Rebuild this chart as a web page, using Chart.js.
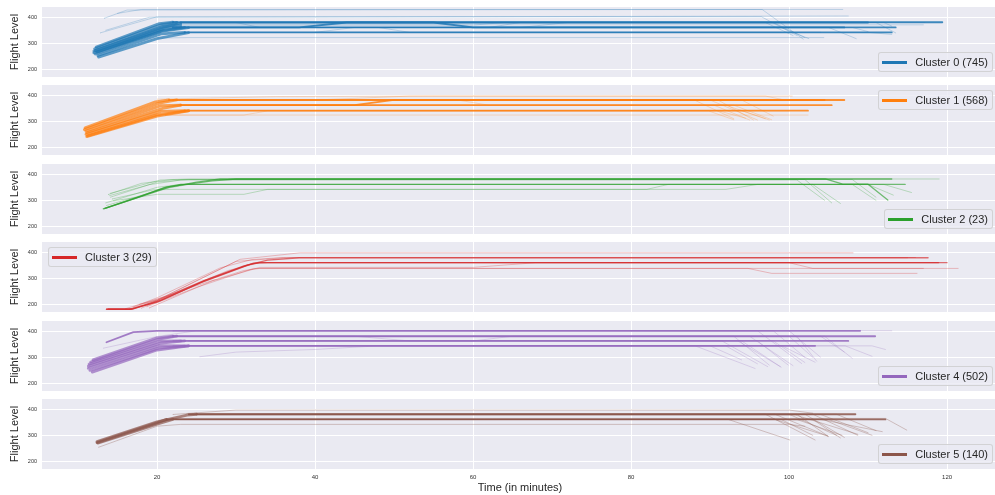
<!DOCTYPE html>
<html>
<head>
<meta charset="UTF-8">
<title>Flight level clusters</title>
<script src="https://cdn.jsdelivr.net/npm/chart.js"></script>
<style>
  body { margin: 0; overflow: hidden; background: #fff; width: 995px; height: 495px; }
  #wrap { position: relative; width: 1000px; height: 495px; }
  .panel { position: absolute; left: 0; line-height: 0; }
  .legend {
    position: absolute; z-index: 5; display: flex; align-items: center;
    height: 20px; box-sizing: border-box; padding: 0 4px 0 3px;
    background: rgba(234, 234, 242, 0.8); border: 1px solid rgba(204, 204, 204, 0.8);
    border-radius: 3px; color: #262626; white-space: nowrap;
    font: 11px "Liberation Sans", Arial, sans-serif;
  }
  .swatch { display: inline-block; width: 25px; height: 3px; margin-right: 8px; }
</style>
</head>
<body>
<div id="wrap"></div>
<script>
// clusters
const clusterNames = ['Cluster 0', 'Cluster 1', 'Cluster 2', 'Cluster 3', 'Cluster 4', 'Cluster 5'];
const clusterSizes = [745, 568, 23, 29, 502, 140];
const clusterColors = ['#1f77b4', '#ff7f0e', '#2ca02c', '#d62728', '#9467bd', '#8c564b'];
const legendSpots = ['lower right', 'upper right', 'lower right', 'upper left', 'lower right', 'lower right'];

const xTicks = [20, 40, 60, 80, 100, 120];
const yTicks = [200, 300, 400];

// trajectories, [minutes, flight level]
// climb = dense climb bundle, main = busy cruise levels, faint = single flights
const c0Climb = [
  [[12.3, 286], [20.3, 376], [22, 381]],
  [[12.1, 279], [20.6, 372], [22.5, 380]],
  [[12.0, 270], [20.7, 360], [23, 378]],
  [[12.2, 272], [20.8, 365], [23, 371]],
  [[12.4, 266], [21, 358], [23, 362]],
  [[12.0, 263], [20.5, 346], [24, 360]],
  [[12.2, 259], [20.8, 350], [23.5, 361]],
  [[12.5, 253], [20.5, 336], [23.5, 342]],
  [[12.6, 247], [20, 318], [24, 341]]
];
const c0Main = [
  [[22, 381], [119.4, 381]],
  [[23, 361], [113.5, 361]],
  [[23.5, 342], [113, 342]],
  [[22, 361], [38, 361], [44, 380], [110, 380]],
  [[23, 380], [55, 380], [60, 361], [107, 361]]
];
const c0Faint = [
  [[13.3, 396], [16.2, 428], [96.6, 430], [101.8, 316]],
  [[15, 415], [18, 430], [106.8, 430]],
  [[12.8, 340], [20, 402], [96.5, 402], [101, 330]],
  [[13.5, 350], [19, 400], [107.5, 405]],
  [[20, 320], [24, 322], [104.4, 322]],
  [[23, 371], [117, 371]],
  [[22, 370], [60, 370], [64, 380], [117.2, 380]],
  [[24, 361], [105, 361], [108.5, 318]],
  [[24, 380], [98, 380], [102, 322]],
  [[24, 380], [97, 380], [100.5, 330]],
  [[24, 361], [99, 361], [102.5, 318]],
  [[24, 342], [110, 342], [113, 334]],
  [[24, 361], [108, 361], [110, 345]],
  [[24, 380], [111, 380], [113.5, 340]],
  [[30, 380], [33, 361], [48, 361], [52, 342], [99, 342]],
  [[40, 342], [45, 361], [62, 361], [66, 380], [95, 380]],
  [[24, 361], [66, 361], [72, 380], [112, 380], [113, 366]],
  [[24, 342], [104, 342]],
  [[24, 360], [95, 360]]
];

const c1Climb = [
  [[10.9, 275], [19.8, 375], [21.5, 382]],
  [[10.8, 268], [20.3, 370], [22.5, 382]],
  [[11.0, 262], [20.5, 360], [23, 362]],
  [[11.1, 256], [20.7, 350], [23, 362]],
  [[11.0, 250], [20.5, 338], [23.5, 341]],
  [[11.2, 244], [20, 325], [24, 341]],
  [[11.1, 241], [20, 320], [24, 340]]
];
const c1Main = [
  [[21.5, 382], [104.5, 382]],
  [[23, 362], [105.4, 362]],
  [[23.5, 341], [102.4, 341]],
  [[23, 362], [45, 362], [50, 382], [107, 382]]
];
const c1Faint = [
  [[21, 324], [31, 324], [34, 340], [100, 340]],
  [[21, 324], [102.4, 324]],
  [[20, 385], [35, 395], [55, 397], [100.4, 397]],
  [[22, 382], [91, 382], [95.5, 305]],
  [[23, 362], [93, 362], [97.8, 306]],
  [[22, 382], [88, 382], [93, 310]],
  [[23, 341], [91, 341], [94.5, 312]],
  [[22, 382], [40, 382], [52, 397], [97, 397], [99, 385]],
  [[22, 382], [90, 382], [96, 305]],
  [[23, 362], [92, 362], [97.5, 305]],
  [[24, 341], [94, 341], [97, 310]],
  [[24, 340], [89.8, 340], [93, 306]],
  [[22, 382], [58, 382], [62, 362], [90.5, 362], [95, 305]],
  [[22, 382], [94, 382], [98, 320]]
];

const c2Climb = [];
const c2Main = [
  [[13.2, 267], [17.5, 310], [21, 350], [23, 361], [114.7, 361]],
  [[13.5, 270], [21.3, 352], [24, 362], [27, 375], [30, 382], [104.6, 382], [106.8, 362], [110, 362], [112.5, 301]],
  [[13.3, 268], [21.5, 350], [25, 370], [28, 382], [113, 382]]
];
const c2Faint = [
  [[14.1, 327], [20.4, 378], [24, 382], [119, 382]],
  [[14.1, 312], [20, 370], [24, 380], [102, 380], [105.4, 290]],
  [[14.3, 305], [19.5, 340], [22, 342], [82, 342], [84.7, 361], [103, 361], [106.5, 288]],
  [[14.5, 298], [20, 323], [31, 323], [34, 342], [92, 342], [96, 361], [108, 361], [111, 300]],
  [[14, 318], [19, 360], [23, 378], [101, 378], [104.5, 300]],
  [[13.8, 322], [18, 365], [22, 380], [108, 380], [111, 312]],
  [[13.6, 280], [21, 345], [24, 361], [110, 361], [113.2, 320]],
  [[13.5, 290], [20, 350], [23, 361], [112, 361], [115.5, 330]]
];

const c3Climb = [];
const c3Main = [
  [[13.6, 181], [16.6, 181], [20, 208], [25.4, 281], [32.2, 358], [34, 360], [118.9, 360]],
  [[13.6, 181], [16.8, 181], [20, 214], [26, 292], [31, 348], [34, 370], [38, 379], [117.6, 379]],
  [[13.8, 182], [17, 182], [20.5, 215], [26, 290], [31.5, 352], [33, 360], [120, 360]]
];
const c3Faint = [
  [[17.8, 200], [20, 216], [30.5, 373], [38.1, 398], [108.1, 398]],
  [[17, 190], [20, 225], [28, 340], [32, 372], [36, 380], [116, 380]],
  [[18.7, 191], [25, 265], [32.2, 338], [121.4, 338]],
  [[18, 185], [24, 262], [31, 330], [33, 338], [94.8, 338], [97.8, 319], [116.2, 319]],
  [[16.5, 182], [22, 240], [29, 330], [33, 360], [100, 360], [103, 338], [117, 338]],
  [[19, 186], [27, 290], [33, 342], [60, 342], [68, 360], [119, 360]],
  [[16, 183], [21, 230], [27, 320], [30, 365], [36, 379], [115, 379]]
];

const c4Climb = [
  [[11.9, 290], [20, 375], [22, 381]],
  [[11.6, 282], [20.2, 370], [22.5, 381]],
  [[11.4, 274], [20.4, 362], [23, 363]],
  [[11.3, 266], [20.5, 355], [23.5, 363]],
  [[11.3, 258], [20.3, 345], [23.5, 344]],
  [[11.5, 250], [20.2, 335], [24, 344]],
  [[11.8, 243], [20, 328], [24, 344]]
];
const c4Main = [
  [[13.6, 358], [17, 397], [20, 402], [109, 402]],
  [[22, 381], [110.9, 381]],
  [[23, 363], [107.5, 363]],
  [[23.5, 344], [103.3, 344]]
];
const c4Faint = [
  [[13.2, 335], [20, 380], [25, 402], [113, 402]],
  [[25.4, 302], [30, 320], [40, 330], [48, 344], [110.5, 344], [112.2, 330]],
  [[23, 344], [107.1, 344], [110.5, 304]],
  [[22.5, 381], [93, 381], [97.5, 270]],
  [[23.5, 363], [91.5, 363], [97.3, 264]],
  [[24, 344], [99.1, 344], [103.3, 281]],
  [[24, 344], [88.1, 344], [95.7, 257]],
  [[22, 381], [45, 381], [52, 363], [96, 363], [99.9, 270]],
  [[24, 363], [60, 363], [65, 381], [100, 381], [103, 300]],
  [[22, 381], [95, 381], [100.5, 268]],
  [[22, 363], [98, 363], [102, 280]],
  [[22, 402], [100, 402], [104, 300]],
  [[22, 381], [104, 381], [107, 320]],
  [[22, 363], [94, 363], [99, 262]],
  [[22, 344], [92, 344], [96, 275]],
  [[22, 381], [101, 381], [103.5, 285]],
  [[22, 402], [96, 402], [101.6, 276]],
  [[22, 363], [93.5, 363], [98.9, 264]],
  [[22, 381], [104.5, 381], [108, 296]],
  [[22, 402], [98, 402], [102, 300]],
  [[22, 344], [90, 344], [94, 290]]
];

const c5Climb = [
  [[12.4, 276], [20, 352], [23.8, 378], [25, 381]],
  [[12.4, 272], [20, 348], [21.2, 361]],
  [[12.5, 270], [20, 343], [22, 361]]
];
const c5Main = [
  [[25, 381], [108.4, 381]],
  [[21.2, 361], [112.2, 361]]
];
const c5Faint = [
  [[12.6, 254], [20, 335], [23, 342], [100, 342], [102, 335]],
  [[22, 380], [30, 397], [100, 397], [103, 385]],
  [[22, 361], [98.2, 361], [104.9, 297]],
  [[24, 381], [100, 381], [106, 300]],
  [[22, 361], [92.3, 361], [100.1, 282]],
  [[24, 381], [98.2, 381], [104.9, 297]],
  [[24, 378], [100.8, 378], [108.7, 304]],
  [[24, 380], [104, 380], [110, 310]],
  [[24, 361], [105, 361], [110.5, 300]],
  [[22, 365], [112.2, 365], [114.9, 320]],
  [[24, 381], [102, 381], [107, 292]],
  [[22, 361], [103, 361], [106.5, 290]],
  [[24, 381], [106, 381], [111, 318]],
  [[24, 381], [101, 381], [105, 295]],
  [[22, 361], [99, 361], [103, 300]],
  [[24, 381], [97, 381], [103.3, 282]],
  [[24, 381], [103, 381], [108.7, 300]],
  [[22, 361], [104, 361], [111.8, 314]],
  [[22, 361], [101, 361], [106.7, 300]]
];

const clusterLines = [
  [c0Main, c0Climb, c0Faint],
  [c1Main, c1Climb, c1Faint],
  [c2Main, c2Climb, c2Faint],
  [c3Main, c3Climb, c3Faint],
  [c4Main, c4Climb, c4Faint],
  [c5Main, c5Climb, c5Faint]
];

const panelTops = [7, 85, 164, 242, 321, 399];
const panelHeight = 70;
const faintAlpha = [0.24, 0.24, 0.28, 0.28, 0.24, 0.32];

function rgba(hex, a) {
  const n = parseInt(hex.slice(1), 16);
  return 'rgba(' + (n >> 16) + ',' + ((n >> 8) & 255) + ',' + (n & 255) + ',' + a + ')';
}

const plotBg = {
  id: 'plotBg',
  beforeDraw(chart) {
    const { ctx, chartArea: a } = chart;
    ctx.save();
    ctx.fillStyle = '#eaeaf2';
    ctx.fillRect(a.left, a.top, a.width, a.height);
    ctx.restore();
  }
};

const wrap = document.getElementById('wrap');
const fontFamily = '"Liberation Sans", Arial, sans-serif';

for (let i = 0; i < 6; i++) {
  const last = i === 5;
  const color = clusterColors[i];
  const small = i === 2 || i === 3;
  const [mainLines, climbLines, faintLines] = clusterLines[i];

  const datasets = [];
  mainLines.forEach(pts => datasets.push({
    data: pts, borderColor: rgba(color, small ? 0.65 : 0.85), borderWidth: small ? 1.3 : 1.8
  }));
  climbLines.forEach(pts => datasets.push({
    data: pts, borderColor: rgba(color, 0.7), borderWidth: 2.8
  }));
  faintLines.forEach(pts => datasets.push({
    data: pts, borderColor: rgba(color, faintAlpha[i]), borderWidth: 1
  }));

  const div = document.createElement('div');
  div.className = 'panel';
  div.style.top = panelTops[i] + 'px';
  const canvas = document.createElement('canvas');
  canvas.width = 1000;
  canvas.height = last ? 96 : panelHeight;
  div.appendChild(canvas);
  wrap.appendChild(div);

  new Chart(canvas, {
    type: 'line',
    data: { datasets: datasets },
    options: {
      responsive: false,
      animation: false,
      events: [],
      layout: { padding: { left: 0, right: 2, top: 0, bottom: 0 } },
      elements: { point: { radius: 0 }, line: { tension: 0, borderJoinStyle: 'round', borderCapStyle: 'round' } },
      plugins: { legend: { display: false }, tooltip: { enabled: false } },
      scales: {
        x: {
          type: 'linear',
          min: 5.44,
          max: 126.45,
          afterBuildTicks: axis => { axis.ticks = xTicks.map(v => ({ value: v })); },
          afterFit: axis => {
            axis.height = last ? 26 : 0;
            axis.paddingLeft = 0; axis.paddingRight = 0;
          },
          grid: { color: '#ffffff', lineWidth: 1, drawTicks: false },
          border: { display: false },
          ticks: {
            display: last,
            padding: 5,
            color: '#333',
            font: { family: fontFamily, size: 6 }
          },
          title: {
            display: last,
            text: 'Time (in minutes)',
            color: '#262626',
            padding: { top: 0, bottom: 0 },
            font: { family: fontFamily, size: 11 }
          }
        },
        y: {
          type: 'linear',
          min: 170.4,
          max: 439.6,
          afterBuildTicks: axis => { axis.ticks = yTicks.map(v => ({ value: v })); },
          afterFit: axis => {
            axis.width = 42;
            axis.paddingTop = 0; axis.paddingBottom = 0;
          },
          grid: { color: '#ffffff', lineWidth: 1, drawTicks: false },
          border: { display: false },
          ticks: {
            padding: 5,
            color: '#333',
            font: { family: fontFamily, size: 5.5 }
          },
          title: {
            display: true,
            text: 'Flight Level',
            color: '#262626',
            padding: { top: 8, bottom: 0 },
            font: { family: fontFamily, size: 11 }
          }
        }
      }
    },
    plugins: [plotBg]
  });

  // legend box inside the axes
  const lg = document.createElement('div');
  lg.className = 'legend';
  const sw = document.createElement('span');
  sw.className = 'swatch';
  sw.style.background = color;
  const tx = document.createElement('span');
  tx.textContent = clusterNames[i] + ' (' + clusterSizes[i] + ')';
  lg.appendChild(sw);
  lg.appendChild(tx);
  const spot = legendSpots[i];
  if (spot.startsWith('lower')) lg.style.top = (panelTops[i] + panelHeight - 25) + 'px';
  else lg.style.top = (panelTops[i] + 5) + 'px';
  if (spot.endsWith('right')) lg.style.right = '7px';
  else lg.style.left = '48px';
  wrap.appendChild(lg);
}
</script>
</body>
</html>
